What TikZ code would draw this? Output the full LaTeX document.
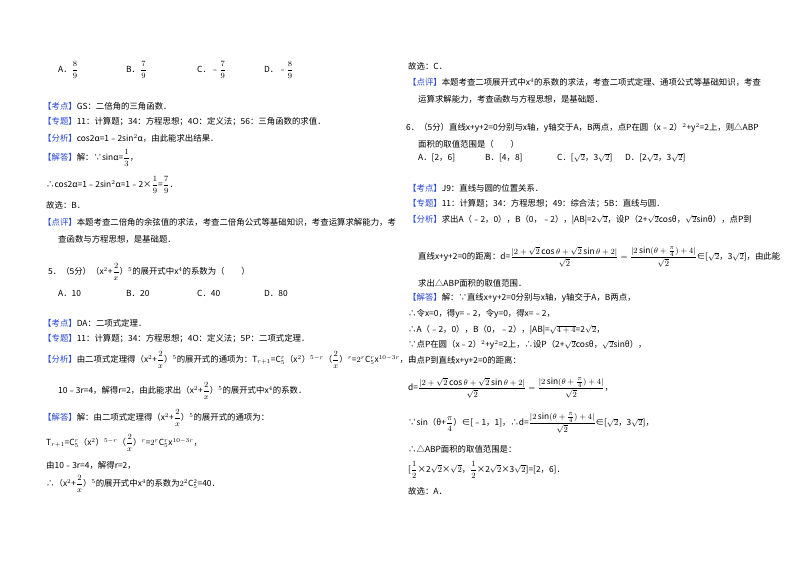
\documentclass[tikz,border=0pt]{standalone}
\usepackage{amsmath}
\usepackage{fontspec}
\setmainfont{Noto Sans CJK SC}
\definecolor{tagblue}{RGB}{40,70,215}
\newcommand\tg[1]{\textcolor{tagblue}{【#1】}}
\newcommand\fr[2]{$\dfrac{#1}{#2}$}
\begin{document}
\begin{tikzpicture}[x=1pt,y=-1pt,every node/.style={anchor=west,inner sep=0pt,font=\fontsize{8.4}{10}\selectfont}]
\useasboundingbox[fill=white] (0,0) rectangle (800,565);
% left column
\node (l1a) at (58,70) {A．\fr{8}{9}};
\node (l1b) at (126,70) {B．\fr{7}{9}};
\node (l1c) at (197,70) {C．﹣\fr{7}{9}};
\node (l1d) at (264,70) {D．﹣\fr{8}{9}};
\node (l2) at (43,106) {\tg{考点}GS：二倍角的三角函数．};
\node (l3) at (43,122) {\tg{专题}11：计算题；34：方程思想；4O：定义法；56：三角函数的求值．};
\node (l4) at (43,138) {\tg{分析}cos2α=1﹣2sin$^2$α，由此能求出结果．};
\node (l5) at (43,158) {\tg{解答}解：∵sinα=\fr{1}{3}，};
\node (l6) at (46,185) {∴cos2α=1﹣2sin$^2$α=1﹣2×\fr{1}{9}=\fr{7}{9}．};
\node (l7) at (46,205) {故选：B．};
\node (l8) at (43,222) {\tg{点评}本题考查二倍角的余弦值的求法，考查二倍角公式等基础知识，考查运算求解能力，考};
\node (l9) at (58,239) {查函数与方程思想，是基础题．};
\node (l10) at (48,272) {5．（5分）（x$^2$+\fr{2}{x}）$^5$的展开式中x$^4$的系数为（　　）};
\node (l11a) at (58,293) {A．10};
\node (l11b) at (126,293) {B．20};
\node (l11c) at (197,293) {C．40};
\node (l11d) at (264,293) {D．80};
\node (l12) at (43,323) {\tg{考点}DA：二项式定理．};
\node (l13) at (43,339) {\tg{专题}11：计算题；34：方程思想；4O：定义法；5P：二项式定理．};
\node (l14) at (43,360) {\tg{分析}由二项式定理得（x$^2$+\fr{2}{x}）$^5$的展开式的通项为：T$_{r+1}$=C$_5^r$（x$^2$）$^{5-r}$（\fr{2}{x}）$^r$=$2^r$C$_5^r$x$^{10-3r}$，由};
\node (l15) at (58,391) {10﹣3r=4，解得r=2，由此能求出（x$^2$+\fr{2}{x}）$^5$的展开式中x$^4$的系数．};
\node (l16) at (43,418) {\tg{解答}解：由二项式定理得（x$^2$+\fr{2}{x}）$^5$的展开式的通项为：};
\node (l17) at (46,443) {T$_{r+1}$=C$_5^r$（x$^2$）$^{5-r}$（\fr{2}{x}）$^r$=$2^r$C$_5^r$x$^{10-3r}$，};
\node (l18) at (46,465) {由10﹣3r=4，解得r=2，};
\node (l19) at (46,484) {∴（x$^2$+\fr{2}{x}）$^5$的展开式中x$^4$的系数为$2^2$C$_5^2$=40．};
% right column
\node (r1) at (408,66) {故选：C．};
\node (r2) at (408,82) {\tg{点评}本题考查二项展开式中x$^4$的系数的求法，考查二项式定理、通项公式等基础知识，考查};
\node (r3) at (418,99) {运算求解能力，考查函数与方程思想，是基础题．};
\node (r4) at (406,128) {6．（5分）直线x+y+2=0分别与x轴，y轴交于A，B两点，点P在圆（x﹣2）$^2$+y$^2$=2上，则△ABP};
\node (r5) at (418,144) {面积的取值范围是（　　）};
\node (r6a) at (418,158) {A．[2，6]};
\node (r6b) at (485,158) {B．[4，8]};
\node (r6c) at (557,158) {C．[$\sqrt2$，3$\sqrt2$]};
\node (r6d) at (625,158) {D．[2$\sqrt2$，3$\sqrt2$]};
\node (r7) at (408,188) {\tg{考点}J9：直线与圆的位置关系．};
\node (r8) at (408,204) {\tg{专题}11：计算题；34：方程思想；49：综合法；5B：直线与圆．};
\node (r9) at (408,220) {\tg{分析}求出A（﹣2，0），B（0，﹣2），|AB|=2$\sqrt2$，设P（2+$\sqrt2$cosθ，$\sqrt2$sinθ），点P到};
\node (r10) at (418,257) {直线x+y+2=0的距离：d=$\dfrac{|2+\sqrt2\cos\theta+\sqrt2\sin\theta+2|}{\sqrt2}=\dfrac{|2\sin(\theta+\frac{\pi}{4})+4|}{\sqrt2}$∈[$\sqrt2$，3$\sqrt2$]，由此能};
\node (r11) at (418,283) {求出△ABP面积的取值范围．};
\node (r12) at (408,298) {\tg{解答}解：∵直线x+y+2=0分别与x轴，y轴交于A，B两点，};
\node (r13) at (408,314) {∴令x=0，得y=﹣2，令y=0，得x=﹣2，};
\node (r14) at (408,330) {∴A（﹣2，0），B（0，﹣2），|AB|=$\sqrt{4+4}$=2$\sqrt2$，};
\node (r15) at (408,345) {∵点P在圆（x﹣2）$^2$+y$^2$=2上，∴设P（2+$\sqrt2$cosθ，$\sqrt2$sinθ），};
\node (r16) at (408,361) {∴点P到直线x+y+2=0的距离：};
\node (r17) at (408,388) {d=$\dfrac{|2+\sqrt2\cos\theta+\sqrt2\sin\theta+2|}{\sqrt2}=\dfrac{|2\sin(\theta+\frac{\pi}{4})+4|}{\sqrt2}$，};
\node (r18) at (408,423) {∵sin（θ+\fr{\pi}{4}）∈[﹣1，1]，∴d=$\dfrac{|2\sin(\theta+\frac{\pi}{4})+4|}{\sqrt2}$∈[$\sqrt2$，3$\sqrt2$]，};
\node (r19) at (408,449) {∴△ABP面积的取值范围是：};
\node (r20) at (408,470) {[\fr{1}{2}×2$\sqrt2$×$\sqrt2$，\fr{1}{2}×2$\sqrt2$×3$\sqrt2$]=[2，6]．};
\node (r21) at (408,491) {故选：A．};
\end{tikzpicture}
\end{document}
